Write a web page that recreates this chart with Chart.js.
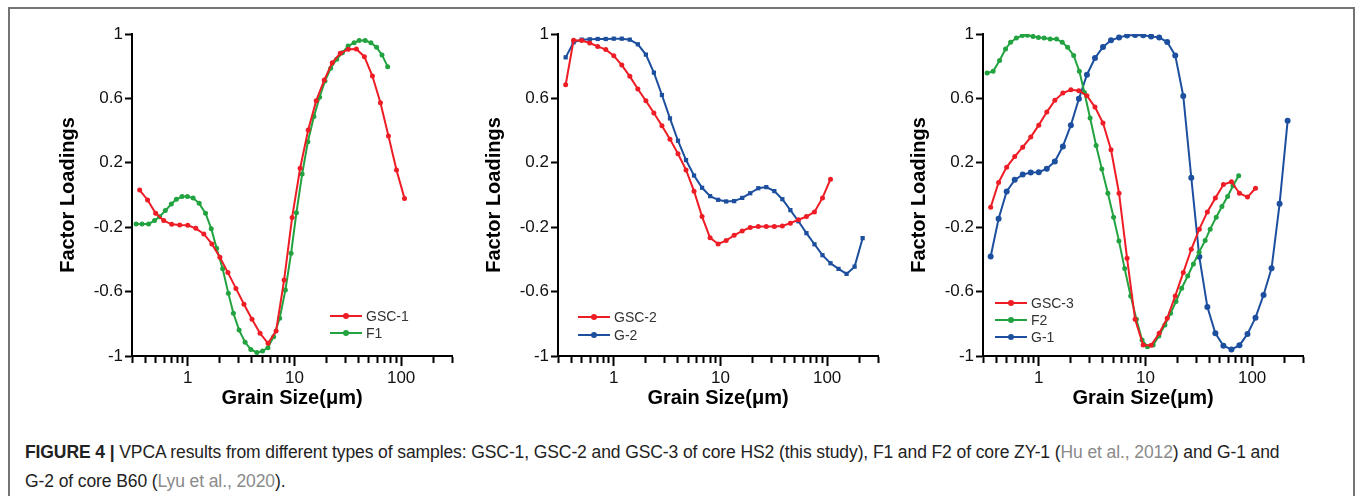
<!DOCTYPE html>
<html>
<head>
<meta charset="utf-8">
<script src="https://cdn.jsdelivr.net/npm/chart.js@4.4.0/dist/chart.umd.min.js"></script>
<style>
  body { margin: 0; width: 1355px; height: 496px; background: #fff; position: relative; overflow: hidden; font-family: "Liberation Sans", Arial, sans-serif; }
  .frame { position: absolute; left: 8px; top: 7px; width: 1343px; height: 520px; border: 2px solid #747474; border-bottom: none; }
  canvas { position: absolute; top: 0; }
  #c1 { left: 56px; }
  #c2 { left: 482px; }
  #c3 { left: 907px; }
  .caption { position: absolute; left: 25px; top: 438px; font-size: 17.5px; line-height: 29px; color: #222; letter-spacing: -0.1px; white-space: nowrap; }
  .caption b { font-weight: bold; }
  .ref { color: #8a8a8a; }
</style>
</head>
<body>
<div class="frame"></div>
<canvas id="c1" width="420" height="410"></canvas>
<canvas id="c2" width="420" height="410"></canvas>
<canvas id="c3" width="420" height="410"></canvas>
<div class="caption">
  <b>FIGURE 4 |</b> VPCA results from different types of samples: GSC-1, GSC-2 and GSC-3 of core HS2 (this study), F1 and F2 of core ZY-1 (<span class="ref">Hu et al., 2012</span>) and G-1 and<br>
  G-2 of core B60 (<span class="ref">Lyu et al., 2020</span>).
</div>
<script>
// grain size classes (um)
const phiSizes = [0.354, 0.42, 0.5, 0.595, 0.707, 0.841, 1, 1.189, 1.414, 1.682, 2, 2.378, 2.828, 3.364, 4, 4.757, 5.657, 6.727, 8, 9.514,
  11.31, 13.45, 16, 19.03, 22.63, 26.91, 32, 38.05, 45.25, 53.82, 64, 76.11, 90.51, 107.6, 128, 152.2, 181, 215.3];
const huSizes = [0.328, 0.373, 0.429, 0.488, 0.544, 0.616, 0.701, 0.782, 0.884, 0.993, 1.123, 1.279, 1.468, 1.66, 1.864, 2.123, 2.402, 2.677,
  3.028, 3.449, 3.901, 4.445, 5.026, 5.643, 6.383, 7.271, 8.226, 9.302, 10.44, 11.81, 13.36, 15.22, 17.21, 19.33, 21.86, 24.91, 28.17,
  31.85, 36.28, 40.45, 46.08, 52.12, 58.93, 66.19, 74.84];

const gsc1 = [0.031, -0.031, -0.114, -0.159, -0.182, -0.186, -0.188, -0.207, -0.242, -0.304, -0.387, -0.482, -0.58, -0.679, -0.772, -0.859,
  -0.921, -0.845, -0.528, -0.139, 0.166, 0.404, 0.586, 0.714, 0.822, 0.88, 0.905, 0.907, 0.859, 0.739, 0.573, 0.366, 0.155, -0.021];
const f1 = [-0.18, -0.18, -0.18, -0.159, -0.135, -0.097, -0.056, -0.027, -0.01, -0.01, -0.019, -0.052, -0.114, -0.209, -0.331, -0.458,
  -0.611, -0.735, -0.839, -0.915, -0.959, -0.979, -0.969, -0.948, -0.88, -0.766, -0.59, -0.362, -0.11, 0.13, 0.331, 0.487, 0.607, 0.708,
  0.787, 0.843, 0.884, 0.925, 0.946, 0.959, 0.959, 0.946, 0.917, 0.87, 0.797];

const gsc2 = [0.685, 0.961, 0.959, 0.944, 0.923, 0.903, 0.865, 0.807, 0.737, 0.658, 0.585, 0.509, 0.43, 0.347, 0.256, 0.156, 0.024,
  -0.134, -0.266, -0.304, -0.283, -0.25, -0.223, -0.202, -0.196, -0.196, -0.196, -0.192, -0.175, -0.154, -0.134, -0.105, -0.018, 0.098];
const g2 = [0.855, 0.948, 0.965, 0.967, 0.969, 0.969, 0.971, 0.971, 0.965, 0.936, 0.872, 0.76, 0.621, 0.476, 0.337, 0.217, 0.121, 0.045,
  -0.007, -0.03, -0.04, -0.038, -0.018, 0.011, 0.042, 0.049, 0.024, -0.026, -0.094, -0.163, -0.237, -0.306, -0.374, -0.424, -0.459,
  -0.49, -0.445, -0.268];

const gsc3 = [-0.076, 0.078, 0.173, 0.239, 0.297, 0.36, 0.434, 0.515, 0.588, 0.633, 0.654, 0.648, 0.617, 0.546, 0.447, 0.281, 0.011,
  -0.393, -0.772, -0.932, -0.934, -0.859, -0.766, -0.627, -0.482, -0.337, -0.212, -0.105, -0.018, 0.065, 0.082, 0.011, -0.013, 0.042];
const f2 = [0.758, 0.768, 0.836, 0.907, 0.948, 0.975, 0.99, 0.992, 0.985, 0.979, 0.975, 0.969, 0.969, 0.948, 0.917, 0.867, 0.768, 0.637,
  0.478, 0.308, 0.161, 0.011, -0.138, -0.285, -0.457, -0.627, -0.772, -0.9, -0.942, -0.932, -0.876, -0.807, -0.735, -0.662, -0.579,
  -0.503, -0.428, -0.355, -0.283, -0.212, -0.138, -0.072, -0.009, 0.057, 0.119];
const g1 = [-0.382, -0.148, 0.022, 0.094, 0.127, 0.14, 0.142, 0.163, 0.208, 0.302, 0.434, 0.598, 0.747, 0.851, 0.919, 0.961, 0.979, 0.99,
  0.994, 0.992, 0.985, 0.979, 0.95, 0.867, 0.615, 0.107, -0.384, -0.695, -0.859, -0.936, -0.959, -0.934, -0.863, -0.762, -0.621,
  -0.455, -0.055, 0.461];

const xTicks = [0.3, 0.4, 0.5, 0.6, 0.7, 0.8, 0.9, 1, 2, 3, 4, 5, 6, 7, 8, 9, 10, 20, 30, 40, 50, 60, 70, 80, 90, 100, 200, 300];
const xMajor = [1, 10, 100];
const yTicks = [-1, -0.6, -0.2, 0.2, 0.6, 1];

const RED = "#ee1c25";
const GREEN = "#22a340";
const BLUE = "#1d4f9f";

const toPoints = (xs, ys) => ys.map((y, i) => ({ x: xs[i], y: y }));

const series = (label, color, xs, ys, style, radius) => ({
  label: label,
  data: toPoints(xs, ys),
  borderColor: color,
  backgroundColor: color,
  borderWidth: 2,
  pointStyle: style,
  pointRadius: radius,
  pointBorderWidth: 0,
  tension: 0,
});

const legendBox = {
  id: "legendBox",
  afterDraw(chart, args, opts) {
    const ctx = chart.ctx;
    ctx.save();
    chart.data.datasets.forEach((ds, i) => {
      const y = opts.y + i * opts.gap;
      ctx.strokeStyle = ds.borderColor;
      ctx.lineWidth = 2;
      ctx.beginPath();
      ctx.moveTo(opts.x, y);
      ctx.lineTo(opts.x + 32, y);
      ctx.stroke();
      ctx.fillStyle = ds.borderColor;
      ctx.beginPath();
      ctx.arc(opts.x + 16, y, 3, 0, Math.PI * 2);
      ctx.fill();
      ctx.fillStyle = "#333";
      ctx.font = "14px 'Liberation Sans', Arial, sans-serif";
      ctx.textBaseline = "middle";
      ctx.fillText(ds.label, opts.x + 36, y + 1);
    });
    ctx.restore();
  }
};

const make_plot = (id, datasets, legendPos) => {
  return new Chart(document.getElementById(id).getContext("2d"), {
    type: "line",
    data: { datasets: datasets },
    plugins: [legendBox],
    options: {
      responsive: false,
      animation: false,
      layout: { padding: { top: 34, right: 24, left: 0, bottom: 0 } },
      plugins: {
        legend: { display: false },
        tooltip: { enabled: false },
        legendBox: legendPos,
      },
      scales: {
        x: {
          type: "logarithmic",
          min: 0.3,
          max: 300,
          afterBuildTicks: (scale) => { scale.ticks = xTicks.map(v => ({ value: v })); },
          afterFit: (scale) => { scale.height = 54; },
          ticks: {
            autoSkip: false,
            maxRotation: 0,
            padding: 2,
            color: "#111",
            font: { size: 17, family: "'Liberation Sans', Arial, sans-serif" },
            callback: (v) => xMajor.includes(v) ? String(v) : "",
          },
          grid: {
            drawOnChartArea: false,
            drawTicks: true,
            tickLength: 10,
            tickWidth: 2,
            tickColor: "#000",
            tickBorderDash: (ctx) => (ctx.tick && xMajor.includes(ctx.tick.value)) ? [] : [6, 20],
          },
          border: { display: true, color: "#000", width: 2 },
          title: {
            display: true,
            text: "Grain Size(μm)",
            color: "#000",
            padding: 0,
            font: { size: 20, weight: "bold", family: "'Liberation Sans', Arial, sans-serif" },
          },
        },
        y: {
          type: "linear",
          min: -1,
          max: 1,
          afterBuildTicks: (scale) => { scale.ticks = yTicks.map(v => ({ value: v })); },
          afterFit: (scale) => { scale.width = 76; },
          ticks: {
            padding: 2,
            color: "#111",
            font: { size: 17, family: "'Liberation Sans', Arial, sans-serif" },
            callback: (v) => String(v),
          },
          grid: {
            drawOnChartArea: false,
            drawTicks: true,
            tickLength: 7,
            tickWidth: 2,
            tickColor: "#000",
          },
          border: { display: true, color: "#000", width: 2 },
          title: {
            display: true,
            text: "Factor Loadings",
            color: "#000",
            padding: 0,
            font: { size: 20, weight: "bold", family: "'Liberation Sans', Arial, sans-serif" },
          },
        },
      },
    },
  });
};

make_plot("c1", [
  series("GSC-1", RED, phiSizes, gsc1, "circle", 2.5),
  series("F1", GREEN, huSizes, f1, "circle", 2.5),
], { x: 274, y: 316, gap: 17 });

make_plot("c2", [
  series("GSC-2", RED, phiSizes, gsc2, "circle", 2.5),
  series("G-2", BLUE, phiSizes, g2, "rect", 3),
], { x: 96, y: 317, gap: 18 });

make_plot("c3", [
  series("GSC-3", RED, phiSizes, gsc3, "circle", 2.5),
  series("F2", GREEN, huSizes, f2, "circle", 2.5),
  series("G-1", BLUE, phiSizes, g1, "circle", 3),
], { x: 88, y: 303, gap: 17 });
</script>
</body>
</html>
